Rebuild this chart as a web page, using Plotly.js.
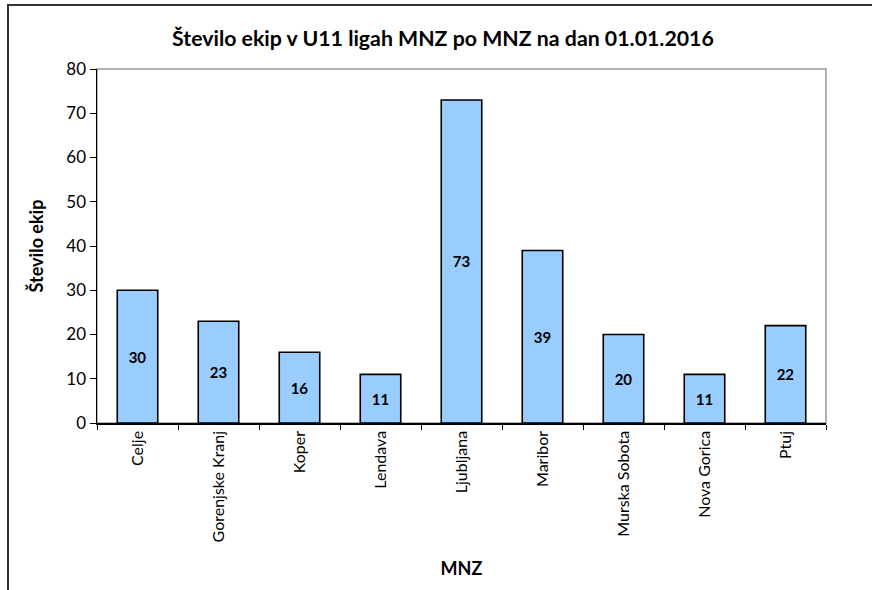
<!DOCTYPE html>
<html>
<head>
<meta charset="utf-8">
<script src="https://cdn.plot.ly/plotly-3.0.1.min.js"></script>
<style>
  html, body { margin:0; padding:0; background:#fff; }
  #chart { width:872px; height:590px; }
  #frame { position:absolute; left:7px; top:4px; width:880px; height:600px;
           border-left:2px solid #333; border-top:2px solid #333; pointer-events:none; }
</style>
</head>
<body>
<div id="chart"></div>
<div id="frame"></div>
<script>
const categories = ["Celje", "Gorenjske Kranj", "Koper", "Lendava", "Ljubljana", "Maribor", "Murska Sobota", "Nova Gorica", "Ptuj"];
const values = [30, 23, 16, 11, 73, 39, 20, 11, 22];
const yTicks = [0, 10, 20, 30, 40, 50, 60, 70, 80];

const FONT = "Lato, 'Open Sans', sans-serif";

const trace = {
  type: "bar",
  x: categories,
  y: values,
  text: values.map(String),
  textposition: "inside",
  insidetextanchor: "middle",
  textangle: 0,
  textfont: { family: FONT, size: 15, color: "#000", weight: "bold" },
  marker: { color: "#99CCFF", line: { color: "#000", width: 1.6 } },
  width: 0.5,
  hoverinfo: "none"
};

const layout = {
  width: 872, height: 590,
  margin: { l: 97, r: 46, t: 69, b: 167 },
  paper_bgcolor: "#fff",
  plot_bgcolor: "#fff",
  showlegend: false,
  font: { family: FONT, color: "#000" },
  title: {
    text: "<b>Število ekip v U11 ligah MNZ po MNZ na dan 01.01.2016</b>",
    font: { family: FONT, size: 21.3, color: "#000" },
    x: 0.508, xanchor: "center", y: 0.934, yanchor: "middle"
  },
  xaxis: {
    type: "category",
    tickangle: -90,
    tickfont: { family: FONT, size: 16, color: "#000" },
    ticks: "outside", tickson: "boundaries", ticklen: 5, tickcolor: "#000",
    showline: true, linecolor: "#000", linewidth: 1.5,
    showgrid: false, zeroline: false,
    title: { text: "<b>MNZ</b>", font: { family: FONT, size: 18, color: "#000" }, standoff: 21 },
    automargin: false
  },
  yaxis: {
    range: [0, 80],
    tickvals: yTicks,
    ticktext: yTicks.map(String),
    tickfont: { family: FONT, size: 17, color: "#000" },
    ticks: "outside", ticklen: 6, tickcolor: "#000",
    showline: true, linecolor: "#000", linewidth: 1.5,
    showgrid: false, zeroline: false,
    title: { text: "<b>Število ekip</b>", font: { family: FONT, size: 18, color: "#000" }, standoff: 18 },
    automargin: false
  },
  shapes: [{
    type: "rect", xref: "paper", yref: "paper", x0: 0, x1: 1, y0: 0, y1: 1,
    line: { color: "#999", width: 1.5 }, layer: "below"
  }],
  bargap: 0.5
};

Plotly.newPlot("chart", [trace], layout, { staticPlot: true, displayModeBar: false });
</script>
</body>
</html>
